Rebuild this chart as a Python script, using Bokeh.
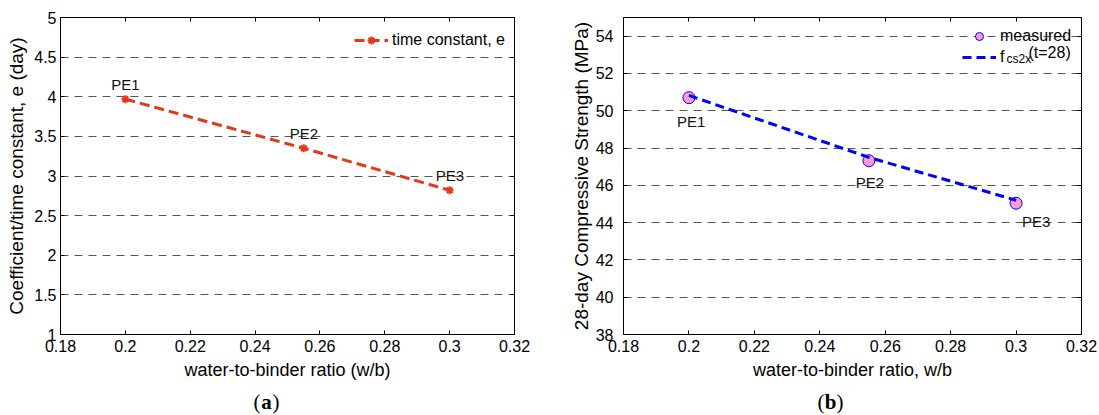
from bokeh.plotting import figure
from bokeh.layouts import row, column
from bokeh.models import (FixedTicker, LinearAxis, Legend, LegendItem, Label,
                          NumeralTickFormatter, CustomJSTickFormatter, Range1d)
from bokeh.core.properties import value
from bokeh.embed import file_html
from bokeh.resources import INLINE

# ---------------- data ----------------
mix_names = ["PE1", "PE2", "PE3"]
wb_ratio = [0.2, 0.255, 0.3]
time_constant = [3.97, 3.35, 2.82]
measured_strength = [50.70, 47.32, 45.04]
fit_strength = [50.82, 47.50, 45.20]

x_ticks = [0.18, 0.2, 0.22, 0.24, 0.26, 0.28, 0.3, 0.32]
y_ticks_a = [1, 1.5, 2, 2.5, 3, 3.5, 4, 4.5, 5]
y_ticks_b = [38, 40, 42, 44, 46, 48, 50, 52, 54]

# ---------------- style ----------------
FONT = "Liberation Sans"
SERIF = "Liberation Serif"
RED = "#E3381A"
PINK = "#FF9BD2"
BLUE = "#0000FF"
GRID = "#555555"
PLOT_H = 385
CAP_H = 415 - PLOT_H


def style_axis(ax, ticks, label_size, tick_size="16px"):
    ax.ticker = FixedTicker(ticks=ticks)
    ax.formatter = NumeralTickFormatter(format="0.[00]")
    ax.major_tick_in = 4
    ax.major_tick_out = 0
    ax.minor_tick_line_color = None
    ax.axis_line_color = "black"
    ax.major_tick_line_color = "black"
    ax.major_label_text_font = FONT
    ax.major_label_text_font_size = tick_size
    ax.major_label_text_color = "black"
    ax.axis_label_text_font = FONT
    ax.axis_label_text_font_size = label_size
    ax.axis_label_text_font_style = "normal"
    ax.axis_label_text_color = "black"


def make_fig(width, mbl, mbr, mbt, mbb, yr, yticks, xlabel, ylabel):
    p = figure(width=width, height=PLOT_H, x_range=Range1d(0.18, 0.32),
               y_range=Range1d(*yr), min_border_left=mbl, min_border_right=mbr,
               min_border_top=mbt, min_border_bottom=mbb,
               output_backend="svg", toolbar_location=None,
               x_axis_label=xlabel, y_axis_label=ylabel)
    p.outline_line_color = "black"
    p.outline_line_alpha = 1
    p.background_fill_color = "white"
    p.border_fill_color = "white"
    style_axis(p.xaxis[0], x_ticks, "18px")
    style_axis(p.yaxis[0], yticks, "19px")
    for loc, ticks in (("above", x_ticks), ("right", yticks)):
        ax = LinearAxis(ticker=FixedTicker(ticks=ticks),
                        formatter=CustomJSTickFormatter(code="return ''"),
                        major_tick_in=4, major_tick_out=0, minor_tick_line_color=None,
                        major_label_standoff=0, axis_line_color="black",
                        major_tick_line_color="black")
        p.add_layout(ax, loc)
    p.xgrid.grid_line_color = None
    p.ygrid.ticker = FixedTicker(ticks=yticks)
    p.ygrid.grid_line_color = GRID
    p.ygrid.grid_line_dash = "8 6"
    p.ygrid.grid_line_width = 1
    return p


def legend(items, loc):
    return Legend(items=items, location=loc, glyph_width=34, glyph_height=20,
                  label_height=20, label_standoff=4, padding=5, spacing=1, margin=0,
                  border_line_color=None, background_fill_alpha=0,
                  label_text_font=FONT, label_text_font_size="16px",
                  label_text_color="black")


def caption_fig(width, letter, cx, cy):
    c = figure(width=width, height=CAP_H, x_range=Range1d(0, 1), y_range=Range1d(0, 1),
               min_border=0, min_border_left=0, min_border_right=0, min_border_top=0,
               min_border_bottom=0, output_backend="svg", toolbar_location=None)
    c.axis.visible = False
    c.grid.visible = False
    c.outline_line_color = None
    c.add_layout(Label(x=cx, y=cy, x_units="screen", y_units="screen", text=letter,
                       text_font=SERIF, text_font_size="21px", text_font_style="bold",
                       text_align="center", text_baseline="middle", text_color="black"))
    c.add_layout(Label(x=cx - 6, y=cy, x_units="screen", y_units="screen", text="(",
                       text_font=SERIF, text_font_size="21px", text_align="right",
                       text_baseline="middle", text_color="black"))
    c.add_layout(Label(x=cx + 6, y=cy, x_units="screen", y_units="screen", text=")",
                       text_font=SERIF, text_font_size="21px", text_align="left",
                       text_baseline="middle", text_color="black"))
    return c


# ---------------- panel (a) ----------------
p1 = make_fig(540, 60, 26, 17, PLOT_H - 334, (1, 5), y_ticks_a,
              "water-to-binder ratio (w/b)", "Coefficient/time constant, e (day)")
p1.xaxis[0].major_label_standoff = 3
p1.xaxis[0].axis_label_standoff = 0
p1.yaxis[0].major_label_standoff = 4
p1.yaxis[0].axis_label_standoff = 4

r_line = p1.line(wb_ratio, time_constant, line_color=RED, line_width=3, line_dash="10 5")
r_mark = p1.scatter(wb_ratio, time_constant, marker="asterisk", size=8,
                    line_color=RED, line_width=2)
p1.text(x=wb_ratio, y=time_constant, text=mix_names, x_offset=-14, y_offset=-15,
        text_align="left", text_baseline="middle", text_font=value(FONT),
        text_font_size="15px", text_color="#111111")
p1.add_layout(legend([LegendItem(label="time constant, e", renderers=[r_line, r_mark])],
                     (294, 284)))

# ---------------- panel (b) ----------------
p2 = make_fig(559, 83, 18, 16, PLOT_H - 336, (38, 55), y_ticks_b,
              "water-to-binder ratio, w/b", "28-day Compressive Strength (MPa)")
p2.xaxis[0].major_label_standoff = 1
p2.xaxis[0].axis_label_standoff = 0
p2.yaxis[0].major_label_standoff = 10
p2.yaxis[0].axis_label_standoff = 1

r_meas = p2.scatter(wb_ratio, measured_strength, marker="circle", size=12,
                    fill_color=PINK, line_color=BLUE, line_width=1)
r_fit = p2.line(wb_ratio, fit_strength, line_color=BLUE, line_width=3, line_dash="9 5")
label_dx_b = [-12, -13, 6]
label_dy_b = [24, 22, 18]
p2.text(x=wb_ratio, y=measured_strength, text=mix_names, x_offset=label_dx_b,
        y_offset=label_dy_b, text_align="left", text_baseline="middle",
        text_font=value(FONT), text_font_size="15px", text_color="#111111")
p2.add_layout(legend([LegendItem(label="measured", renderers=[r_meas]),
                      LegendItem(label="f", renderers=[r_fit])], (339, 267)))
p2.add_layout(Label(x=383, y=276, x_units="screen", y_units="screen", text="cs2x",
                    text_font=FONT, text_font_size="12px", text_baseline="middle",
                    text_color="black"))
p2.add_layout(Label(x=405, y=282, x_units="screen", y_units="screen", text="(t=28)",
                    text_font=FONT, text_font_size="16px", text_baseline="middle",
                    text_color="black"))

c1 = caption_fig(540, "a", 266, 14)
c2 = caption_fig(559, "b", 290, 14)

layout = column(row(p1, p2), row(c1, c2))
open("out.html", "w").write(file_html(layout, INLINE))
